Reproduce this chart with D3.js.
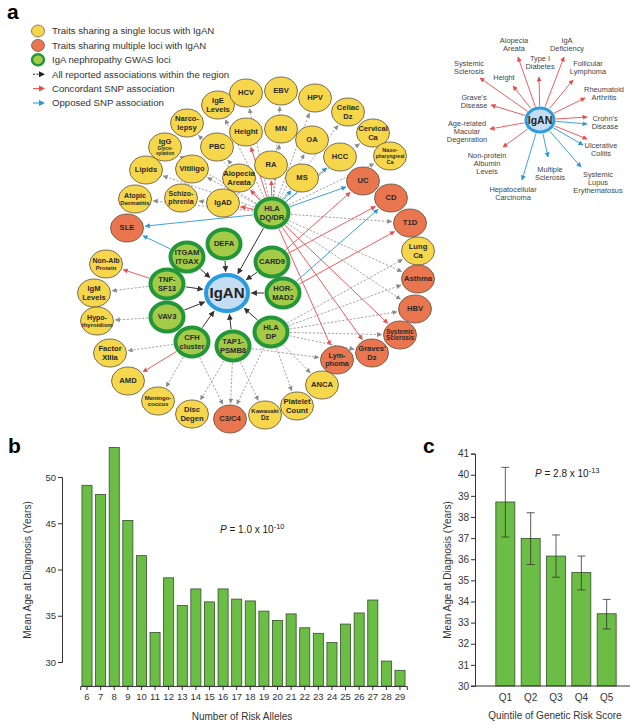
<!DOCTYPE html>
<html><head><meta charset="utf-8">
<script src="https://cdn.jsdelivr.net/npm/d3@7"></script>
<style>body{margin:0;background:#fff} text{font-family:Arial,"Liberation Sans",sans-serif}</style>
</head><body><svg id="fig" width="638" height="728"></svg>
<script>
// ---------------- DATA ----------------
const alleleCounts = [6,7,8,9,10,11,12,13,14,15,16,17,18,19,20,21,22,23,24,25,26,27,28,29];
const alleleMeanAge = [49.1,48.1,53.2,45.3,41.5,33.2,39.1,36.1,37.9,36.5,37.9,36.8,36.6,35.5,34.5,35.2,33.7,33.1,32.1,34.1,35.3,36.7,30.1,29.1];
const alleleTicksY = [30,35,40,45,50];
const quintiles = ["Q1","Q2","Q3","Q4","Q5"];
const quintileMeanAge = [38.71,36.98,36.15,35.37,33.42];
const quintileLow = [37.05,35.75,35.15,34.55,32.70];
const quintileHigh = [40.35,38.20,37.15,36.15,34.10];
const quintileTicksY = [30,31,32,33,34,35,36,37,38,39,40,41];

const legendItems = [
  ["single","Traits sharing a single locus with IgAN"],
  ["multi","Traits sharing multiple loci with IgAN"],
  ["locus","IgA nephropathy GWAS loci"],
  ["all","All reported associations within the region"],
  ["conc","Concordant SNP association"],
  ["opp","Opposed SNP association"]
];

// network nodes: id, label, type
const nodes = [
  ["IgAN","IgAN","igan"],
  ["HLADR","HLA|DQ/DR","locus"],["DEFA","DEFA","locus"],["CARD9","CARD9","locus"],
  ["HORMAD2","HOR-|MAD2","locus"],["HLADP","HLA|DP","locus"],["TAP1","TAP1-|PSMB8","locus"],
  ["CFH","CFH|cluster","locus"],["VAV3","VAV3","locus"],["TNF","TNF-|SF13","locus"],["ITGAM","ITGAM|ITGAX","locus"],
  ["Narco","Narco-|lepsy","single"],["IgE","IgE|Levels","single"],["HCV","HCV","single"],["EBV","EBV","single"],
  ["HPV","HPV","single"],["Celiac","Celiac|Dz","single"],["Cervical","Cervical|Ca","single"],
  ["Naso","Naso-|pharyngreal|Ca","single"],["Height","Height","single"],["MN","MN","single"],["OA","OA","single"],
  ["HCC","HCC","single"],["PBC","PBC","single"],["Vitiligo","Vitiligo","single"],["Alopecia","Alopecia|Areata","single"],
  ["RA","RA","single"],["MS","MS","single"],["Schizo","Schizo-|phrenia","single"],["IgAD","IgAD","single"],
  ["IgG","IgG|Glyco-|sylation","single"],["Lipids","Lipids","single"],["Atopic","Atopic|Dermatitis","single"],
  ["NonAlb","Non-Alb|Protein","single"],["IgM","IgM|Levels","single"],["Hypo","Hypo-|thyroidism","single"],
  ["Factor","Factor|XIIIa","single"],["AMD","AMD","single"],["Mening","Meningo-|coccus","single"],
  ["Disc","Disc|Degen","single"],["Kawasaki","Kawasaki|Dz","single"],["Platelet","Platelet|Count","single"],
  ["ANCA","ANCA","single"],["LungCa","Lung|Ca","single"],
  ["SLE","SLE","multi"],["UC","UC","multi"],["CD","CD","multi"],["T1D","T1D","multi"],["Asthma","Asthma","multi"],
  ["HBV","HBV","multi"],["SSc","Systemic|Sclerosis","multi"],["Graves","Graves'|Dz","multi"],
  ["Lymphoma","Lym-|phoma","multi"],["C3C4","C3/C4","multi"]
];

// edges: source, target, kind (iga = GWAS locus to IgAN, all, conc, opp)
const edges = [
  ["HLADR","IgAN","iga"],["DEFA","IgAN","iga"],["CARD9","IgAN","iga"],["HORMAD2","IgAN","iga"],
  ["HLADP","IgAN","iga"],["TAP1","IgAN","iga"],["CFH","IgAN","iga"],["VAV3","IgAN","iga"],
  ["TNF","IgAN","iga"],["ITGAM","IgAN","iga"],
  ["HLADR","Narco","all"],["HLADR","IgE","all"],["HLADR","HCV","all"],["HLADR","EBV","all"],["HLADR","HPV","all"],
  ["HLADR","Celiac","all"],["HLADR","Cervical","all"],["HLADR","Naso","all"],["HLADR","MN","all"],["HLADR","OA","all"],
  ["HLADR","PBC","all"],["HLADR","Vitiligo","all"],["HLADR","Schizo","all"],["HLADR","IgG","all"],["HLADR","Lipids","all"],
  ["HLADR","Atopic","all"],["HLADR","T1D","all"],["HLADR","Asthma","all"],["HLADR","HBV","all"],
  ["HLADR","Height","conc"],["HLADR","Alopecia","conc"],["HLADR","RA","conc"],["HLADR","IgAD","conc"],
  ["HLADR","SSc","conc"],["HLADR","Graves","conc"],["HLADR","Lymphoma","conc"],
  ["HLADR","MS","opp"],["HLADR","HCC","opp"],["HLADR","SLE","opp"],["HLADR","UC","opp"],
  ["ITGAM","SLE","opp"],
  ["CARD9","UC","conc"],["CARD9","CD","conc"],
  ["HORMAD2","CD","opp"],["HORMAD2","T1D","conc"],
  ["HLADP","LungCa","all"],["HLADP","Asthma","all"],["HLADP","HBV","all"],["HLADP","SSc","all"],["HLADP","Graves","all"],
  ["HLADP","ANCA","all"],["HLADP","Platelet","all"],["HLADP","C3C4","all"],
  ["TAP1","Lymphoma","all"],["TAP1","C3C4","all"],["TAP1","Kawasaki","all"],["TAP1","Disc","all"],
  ["CFH","Factor","all"],["CFH","AMD","conc"],["CFH","Mening","all"],["CFH","C3C4","all"],
  ["VAV3","Hypo","all"],
  ["TNF","NonAlb","conc"],["TNF","IgM","all"]
];

// inset: traits associated with IgAN risk alleles
const insetTraits = ["Alopecia|Areata","Type I|Diabetes","IgA|Deficiency","Follicular|Lymphoma","Rheumatoid|Arthritis",
  "Crohn's|Disease","Ulcerative|Colitis","Systemic|Lupus|Erythematosus","Multiple|Sclerosis","Hepatocellular|Carcinoma",
  "Non-protein|Albumin|Levels","Age-related|Macular|Degenration","Grave's|Disease","Height","Systemic|Sclerosis"];
const insetDirections = [["conc"],["conc"],["conc"],["conc"],["conc"],["conc","opp"],["conc","opp"],["opp"],["opp"],["opp"],
  ["conc"],["conc"],["conc"],["conc"],["conc"]];

// ---------------- LAYOUT (positions, not data) ----------------
const nodePos = {
  IgAN:[227,293],HLADR:[272,213],DEFA:[224,244],CARD9:[272,262],HORMAD2:[283,293],HLADP:[271,332],
  TAP1:[233,346],CFH:[192,342],VAV3:[167,317],TNF:[167,284],ITGAM:[187,257],
  Narco:[187,123],IgE:[218,105],HCV:[246,93],EBV:[281,91],HPV:[315,98],Celiac:[348,112],Cervical:[373,133],
  Naso:[390,156],Height:[246,132],MN:[281,129],OA:[312,140],HCC:[340,157],PBC:[217,147],Vitiligo:[192,169],
  Alopecia:[239,178],RA:[271,165],MS:[302,178],Schizo:[181,198],IgAD:[223,203],IgG:[165,147],Lipids:[146,170],
  Atopic:[135,199],NonAlb:[106,264],IgM:[94,293],Hypo:[97,321],Factor:[110,353],AMD:[128,381],Mening:[158,401],
  Disc:[192,414],Kawasaki:[265,415],Platelet:[297,406],ANCA:[322,385],LungCa:[418,251],
  SLE:[127,228],UC:[363,181],CD:[391,198],T1D:[410,223],Asthma:[418,279],HBV:[415,309],SSc:[400,335],
  Graves:[372,353],Lymphoma:[337,360],C3C4:[230,419]
};
const labelSize = {IgG:[7.6,4.8,4.8],Naso:[5.6,5,5.6],Atopic:[7,6],NonAlb:[7,6],Hypo:[7,6],Mening:[6,6],Kawasaki:[6,6.5],
  SSc:[6.3,6.3],Lymphoma:[7.2,7.2],Schizo:[7,7]};
const insetCenter = [540,120];
const insetEnds = [[[518,57]],[[539,77]],[[564,57]],[[573,80]],[[585,98]],[[587,117],[587,124]],[[587,139],[583,145]],
  [[581,167]],[[548,157]],[[522,180]],[[503,147]],[[490,129]],[[491,105]],[[513,86]],[[480,78]]];
const insetLabels = [[514,44],[540,62],[567,44],[588,67],[604,93],[605,122],[601,149],[598,182],[550,173],[513,193],
  [487,163],[467,131],[474,101],[504,77],[469,67]];

// ---------------- DRAW ----------------
const svg = d3.select("#fig");
const C = {yellow:"#f6d64a", orange:"#e9764f", green:"#a3cb48", greenStroke:"#23963a", nodeStroke:"#5a5040",
  iganFill:"#c4ddf3", iganStroke:"#2a9ce0", gray:"#8c8c8c", red:"#ec4b4f", blue:"#2a97d6", black:"#333"};
const kindColor = {iga:C.black, all:C.gray, conc:C.red, opp:C.blue};

const defs = svg.append("defs");
Object.entries(kindColor).forEach(([k,col])=>{
  defs.append("marker").attr("id","m-"+k).attr("viewBox","0 0 10 10").attr("refX",9).attr("refY",5)
    .attr("markerWidth", k==="iga"?6:5).attr("markerHeight", k==="iga"?6:5).attr("markerUnits","userSpaceOnUse")
    .attr("orient","auto").append("path").attr("d","M0,0L10,5L0,10z").attr("fill",col);
});

// panel letters
svg.append("text").attr("x",7).attr("y",19).attr("font-size",21).attr("font-weight","bold").text("a");
svg.append("text").attr("x",8).attr("y",453).attr("font-size",21).attr("font-weight","bold").text("b");
svg.append("text").attr("x",423).attr("y",453).attr("font-size",21).attr("font-weight","bold").text("c");

// legend
const lg = svg.append("g");
const legY = d3.scaleLinear().domain([0,5]).range([31,103]);
legendItems.forEach(([k,t],i)=>{
  const y = legY(i);
  if (k==="single"||k==="multi"||k==="locus") {
    lg.append("ellipse").attr("cx",38).attr("cy",y).attr("rx",k==="locus"?6:6.5).attr("ry",k==="locus"?5.5:6)
      .attr("fill",k==="single"?C.yellow:k==="multi"?C.orange:C.green)
      .attr("stroke",k==="locus"?C.greenStroke:C.nodeStroke).attr("stroke-width",k==="locus"?2.5:0.7);
  } else {
    const col = k==="all"?"#222":k==="conc"?C.red:C.blue;
    lg.append("line").attr("x1",33).attr("x2",43).attr("y1",y).attr("y2",y).attr("stroke",col).attr("stroke-width",1)
      .attr("stroke-dasharray",k==="all"?"2,1.5":null);
    lg.append("path").attr("d",`M39,${y-3}L45,${y}L39,${y+3}z`).attr("fill",col);
  }
  lg.append("text").attr("x",52).attr("y",y+3.3).attr("font-size",9.6).attr("fill","#333").text(t);
});

// network
const size = t => t==="igan"?[21,18]:t==="locus"?[16.5,14.5]:[16.5,14];
const outer = t => { const s=size(t); const w = t==="igan"||t==="locus"?2:0.4; return [s[0]+w,s[1]+w]; };
const nodeType = Object.fromEntries(nodes.map(n=>[n[0],n[2]]));
const bdist = (t,dx,dy) => { const [rx,ry]=outer(t); return 1/Math.sqrt((dx/rx)**2+(dy/ry)**2); };

const eg = svg.append("g");
edges.forEach(([s,t,k])=>{
  const [x1,y1]=nodePos[s], [x2,y2]=nodePos[t];
  const dx=x2-x1, dy=y2-y1, L=Math.hypot(dx,dy), ux=dx/L, uy=dy/L;
  const a = bdist(nodeType[s],ux,uy)+0.5, b = bdist(nodeType[t],ux,uy)+1.5;
  eg.append("line").attr("x1",x1+ux*a).attr("y1",y1+uy*a).attr("x2",x2-ux*b).attr("y2",y2-uy*b)
    .attr("stroke",kindColor[k]).attr("stroke-width",k==="all"?0.8:k==="iga"?1:0.9)
    .attr("stroke-dasharray",k==="all"?"2.2,1.6":null).attr("marker-end",`url(#m-${k})`);
});

const ng = svg.append("g");
nodes.forEach(([id,label,t])=>{
  const [x,y]=nodePos[id], [rx,ry]=size(t);
  const g = ng.append("g").attr("transform",`translate(${x},${y})`);
  g.append("ellipse").attr("rx",rx).attr("ry",ry)
    .attr("fill",t==="single"?C.yellow:t==="multi"?C.orange:t==="locus"?C.green:C.iganFill)
    .attr("stroke",t==="locus"?C.greenStroke:t==="igan"?C.iganStroke:C.nodeStroke)
    .attr("stroke-width",t==="locus"||t==="igan"?4:0.8);
  const lines = label.split("|");
  const fs = labelSize[id] || lines.map(()=> t==="igan"?15:7.6);
  const hs = fs.map(f=>f*1.08);
  const total = d3.sum(hs);
  let top = -total/2;
  lines.forEach((ln,i)=>{
    g.append("text").attr("text-anchor","middle").attr("y",top+fs[i]*0.86)
      .attr("font-size",fs[i]).attr("font-weight","bold").attr("fill",t==="igan"?"#222":"#2a2a2a").text(ln);
    top += hs[i];
  });
});

// inset network
const ig = svg.append("g");
const [icx,icy] = insetCenter;
insetTraits.forEach((name,i)=>{
  insetDirections[i].forEach((k,j)=>{
    const [ex,ey]=insetEnds[i][j];
    const dx=ex-icx, dy=ey-icy, L=Math.hypot(dx,dy), ux=dx/L, uy=dy/L;
    const a = 1/Math.sqrt((ux/16)**2+(uy/14)**2);
    ig.append("line").attr("x1",icx+ux*a).attr("y1",icy+uy*a).attr("x2",ex).attr("y2",ey)
      .attr("stroke",k==="conc"?C.red:C.blue).attr("stroke-width",0.9).attr("marker-end",`url(#m-${k})`);
  });
  const lines = name.split("|"), [lx,ly]=insetLabels[i];
  lines.forEach((ln,r)=>{
    ig.append("text").attr("x",lx).attr("y",ly-(lines.length-1)*4+r*8+2.6).attr("text-anchor","middle")
      .attr("font-size",7.4).attr("fill","#444").text(ln);
  });
});
ig.append("ellipse").attr("cx",icx).attr("cy",icy).attr("rx",14).attr("ry",12).attr("fill",C.iganFill)
  .attr("stroke",C.iganStroke).attr("stroke-width",3);
ig.append("text").attr("x",icx).attr("y",icy+3.6).attr("text-anchor","middle").attr("font-size",10.5)
  .attr("font-weight","bold").attr("fill","#222").text("IgAN");

// ---------------- PANEL b ----------------
const barFill = "#6cbd45", barStroke = "#34502a";
const xB = d3.scaleBand().domain(alleleCounts).range([80.2,406.8]).paddingInner(0.26).paddingOuter(0.13);
const yB = d3.scaleLinear().domain([30,50]).range([662,477]);
const baseB = yB(27.4);
const gb = svg.append("g");
gb.selectAll("rect").data(alleleCounts).join("rect")
  .attr("x",d=>xB(d)).attr("width",xB.bandwidth())
  .attr("y",(d,i)=>yB(alleleMeanAge[i])).attr("height",(d,i)=>baseB-yB(alleleMeanAge[i]))
  .attr("fill",barFill).attr("stroke",barStroke).attr("stroke-width",0.8);
const axYB = gb.append("g").attr("transform","translate(62,0)")
  .call(d3.axisLeft(yB).tickValues(alleleTicksY).tickSizeOuter(0).tickSize(4).tickPadding(2));
const axXB = gb.append("g").attr("transform",`translate(0,${baseB})`)
  .call(d3.axisBottom(xB).tickSizeOuter(0).tickSize(4).tickPadding(3));
[axYB,axXB].forEach(a=>{a.selectAll("text").attr("font-size",9.5).attr("fill","#333").attr("font-family","Arial,Liberation Sans");
  a.selectAll("line,path").attr("stroke","#333");});
gb.append("text").attr("x",242).attr("y",720).attr("text-anchor","middle").attr("font-size",10).attr("fill","#333").text("Number of Risk Alleles");
gb.append("text").attr("transform","translate(31,570) rotate(-90)").attr("text-anchor","middle").attr("font-size",10).attr("fill","#333").text("Mean Age at Diagnosis (Years)");
const pB = gb.append("text").attr("x",220).attr("y",533).attr("font-size",10).attr("fill","#222");
pB.append("tspan").attr("font-style","italic").text("P");
pB.append("tspan").text(" = 1.0 x 10");
pB.append("tspan").attr("dy",-4).attr("font-size",7.5).text("-10");

// ---------------- PANEL c ----------------
const xC = d3.scaleBand().domain(quintiles).range([489.5,622.5]).padding(0.25);
const yC = d3.scaleLinear().domain([30,41]).range([686,453.6]);
const gc = svg.append("g");
gc.selectAll("rect").data(quintiles).join("rect")
  .attr("x",d=>xC(d)).attr("width",xC.bandwidth())
  .attr("y",(d,i)=>yC(quintileMeanAge[i])).attr("height",(d,i)=>yC(30)-yC(quintileMeanAge[i]))
  .attr("fill",barFill).attr("stroke",barStroke).attr("stroke-width",0.8);
quintiles.forEach((q,i)=>{
  const cx = xC(q)+xC.bandwidth()/2;
  gc.append("line").attr("x1",cx).attr("x2",cx).attr("y1",yC(quintileLow[i])).attr("y2",yC(quintileHigh[i])).attr("stroke","#333").attr("stroke-width",0.8);
  [quintileLow[i],quintileHigh[i]].forEach(v=>gc.append("line").attr("x1",cx-4).attr("x2",cx+4).attr("y1",yC(v)).attr("y2",yC(v)).attr("stroke","#333").attr("stroke-width",0.8));
});
const axYC = gc.append("g").attr("transform","translate(475,0)")
  .call(d3.axisLeft(yC).tickValues(quintileTicksY).tickSizeOuter(0).tickSize(4).tickPadding(2));
gc.append("line").attr("x1",471).attr("x2",630).attr("y1",686).attr("y2",686).attr("stroke","#333");
const axXC = gc.append("g").attr("transform","translate(0,686)")
  .call(d3.axisBottom(xC).tickSize(0).tickPadding(8));
axXC.select(".domain").remove();
[axYC,axXC].forEach(a=>{a.selectAll("text").attr("font-size",10).attr("fill","#333").attr("font-family","Arial,Liberation Sans");
  a.selectAll("line,path").attr("stroke","#333");});
gc.append("text").attr("x",555).attr("y",719).attr("text-anchor","middle").attr("font-size",10).attr("fill","#333").text("Quintile of Genetic Risk Score");
gc.append("text").attr("transform","translate(451,570) rotate(-90)").attr("text-anchor","middle").attr("font-size",10).attr("fill","#333").text("Mean Age at Diagnosis (Years)");
const pC = gc.append("text").attr("x",535).attr("y",477).attr("font-size",10).attr("fill","#222");
pC.append("tspan").attr("font-style","italic").text("P");
pC.append("tspan").text(" = 2.8 x 10");
pC.append("tspan").attr("dy",-4).attr("font-size",7.5).text("-13");
</script></body></html>
